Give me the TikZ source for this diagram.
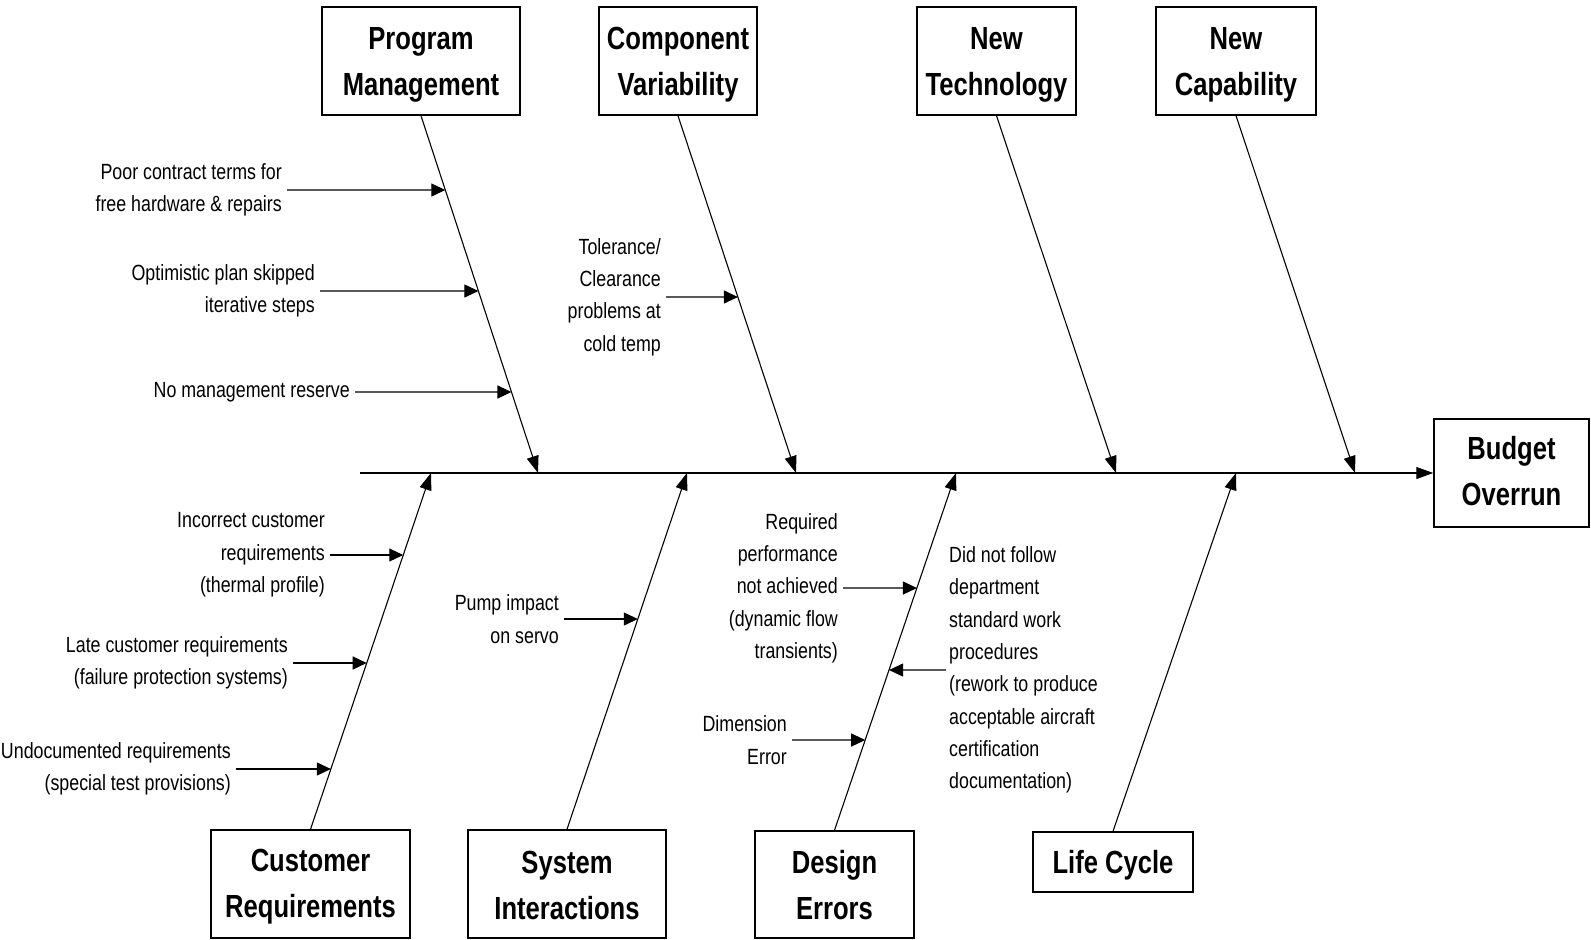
\documentclass[tikz,border=0pt]{standalone}
\usepackage{fontspec}
\setmainfont{Liberation Sans}
\newfontfamily\causefont{Liberation Sans}[FakeStretch=0.81]
\newfontfamily\headfont{Liberation Sans}[FakeStretch=0.80]
\usetikzlibrary{arrows.meta}
\begin{document}
\begin{tikzpicture}[x=1pt,y=-1pt,
  cat/.style={draw, line width=1.5pt, inner sep=0pt},
  title/.style={align=center, inner sep=0pt,
    font=\headfont\bfseries\fontsize{32}{46}\selectfont},
  cause/.style={inner sep=0pt, font=\causefont\fontsize{22}{32.3}\selectfont},
  bone/.style={line width=1.1pt, -{Triangle[length=17pt,width=12pt]}},
  twig/.style={line width=1.1pt, -{Triangle[length=14pt,width=13pt]}}]
\useasboundingbox (0,0) rectangle (1591,940);

% effect and category boxes
\node[cat, minimum width=155pt, minimum height=108pt,
  label={[title, yshift=1.5pt]center:{Budget\\Overrun}}] (bo) at (1511.5,473) {};
\node[cat, minimum width=198pt, minimum height=108pt,
  label={[title, yshift=-3.5pt]center:{Program\\Management}}] (pm) at (421,61) {};
\node[cat, minimum width=158pt, minimum height=108pt,
  label={[title, yshift=-3.5pt]center:{Component\\Variability}}] (cv) at (678,61) {};
\node[cat, minimum width=159pt, minimum height=108pt,
  label={[title, yshift=-3.5pt]center:{New\\Technology}}] (nt) at (996.5,61) {};
\node[cat, minimum width=160pt, minimum height=108pt,
  label={[title, yshift=-3.5pt]center:{New\\Capability}}] (nc) at (1236,61) {};
\node[cat, minimum width=199pt, minimum height=108pt,
  label={[title, yshift=-3pt]center:{Customer\\Requirements}}] (cr) at (310.5,884) {};
\node[cat, minimum width=198pt, minimum height=108pt,
  label={[title, yshift=-1pt]center:{System\\Interactions}}] (si) at (567,884) {};
\node[cat, minimum width=159pt, minimum height=107pt,
  label={[title, yshift=-1pt]center:{Design\\Errors}}] (de) at (834.5,884.5) {};
\node[cat, minimum width=160pt, minimum height=60pt,
  label={[title, yshift=-3pt]center:{Life Cycle}}] (lc) at (1113,862) {};

% spine
\coordinate (tail) at (360,473);
\draw[bone] (tail) -- (bo.west);

% where the bones meet the spine
\coordinate (pmtip) at (538,473);
\coordinate (cvtip) at (796,473);
\coordinate (nttip) at (1116,473);
\coordinate (nctip) at (1355,473);
\coordinate (crtip) at (431,473);
\coordinate (sitip) at (687,473);
\coordinate (detip) at (956,473);
\coordinate (lctip) at (1236,473);

\draw[bone] (pm.south) -- (pmtip);
\draw[bone] (cv.south) -- (cvtip);
\draw[bone] (nt.south) -- (nttip);
\draw[bone] (nc.south) -- (nctip);
\draw[bone] (cr.north) -- (crtip);
\draw[bone] (si.north) -- (sitip);
\draw[bone] (de.north) -- (detip);
\draw[bone] (lc.north) -- (lctip);

% causes on the left of a bone: label, then a horizontal arrow into the bone
\node[cause, align=right, anchor=east] (c1) at (282,190) {Poor contract terms for\\free hardware \& repairs};
\node[cause, align=right, anchor=east] (c2) at (315,291) {Optimistic plan skipped\\iterative steps};
\node[cause, align=right, anchor=east] (c3) at (350,392) {No management reserve};
\node[cause, align=right, anchor=east] (c4) at (661,297) {Tolerance/\\Clearance\\problems at\\cold temp};
\node[cause, align=right, anchor=east] (c5) at (325,555) {Incorrect customer\\requirements\\(thermal profile)};
\node[cause, align=right, anchor=east] (c6) at (288,663) {Late customer requirements\\(failure protection systems)};
\node[cause, align=right, anchor=east] (c7) at (231,769) {Undocumented requirements\\(special test provisions)};
\node[cause, align=right, anchor=east] (c8) at (559,619) {Pump impact\\on servo};
\node[cause, align=right, anchor=east] (c9) at (838,588) {Required\\performance\\not achieved\\(dynamic flow\\transients)};
\node[cause, align=right, anchor=east] (c11) at (787,740) {Dimension\\Error};

\foreach \c/\b/\t in {c1/pm.south/pmtip, c2/pm.south/pmtip, c3/pm.south/pmtip,
                     c4/cv.south/cvtip, c5/cr.north/crtip, c6/cr.north/crtip,
                     c7/cr.north/crtip, c8/si.north/sitip, c9/de.north/detip,
                     c11/de.north/detip}{
  \coordinate (\c s) at ([xshift=5pt]\c.east);
  \coordinate (\c f) at ([xshift=300pt]\c.east);
  \draw[twig] (\c s) -- (intersection of \c s--\c f and \b--\t);
}

% cause on the right of the design-errors bone
\node[cause, align=left, anchor=west] (c10) at (949,670) {Did not follow\\department\\standard work\\procedures\\(rework to produce\\acceptable aircraft\\certification\\documentation)};
\coordinate (c10s) at ([xshift=-3pt]c10.west);
\coordinate (c10f) at ([xshift=-300pt]c10.west);
\draw[twig] (c10s) -- (intersection of c10s--c10f and de.north--detip);
\end{tikzpicture}
\end{document}
